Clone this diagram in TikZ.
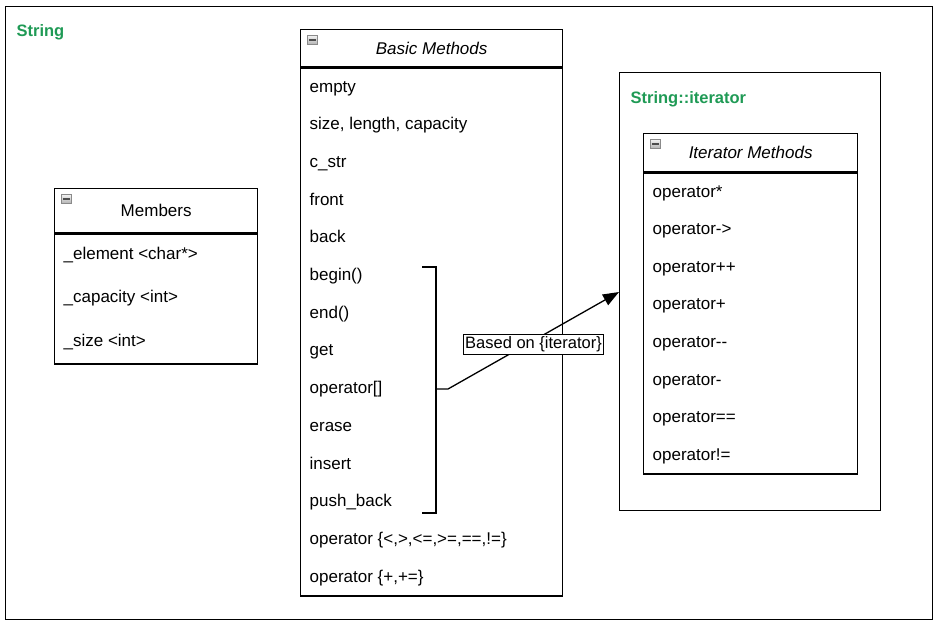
\documentclass[tikz,border=0pt]{standalone}
\usepackage{fontspec}
\setmainfont{Liberation Sans}
\usetikzlibrary{arrows.meta,positioning,calc}
\definecolor{umlGreen}{HTML}{1F9A55}
\definecolor{iconGray}{HTML}{8A8A8A}

\begin{document}
\begin{tikzpicture}[x=1pt,y=-1pt,line width=1.3pt,
    every node/.style={font=\fontsize{17}{20}\selectfont},
    frame/.style={draw,anchor=north west,inner sep=0pt},
    head/.style={draw,anchor=north west,inner sep=0pt,font=\fontsize{17}{20}\selectfont\itshape},
    body/.style={draw,anchor=north,inner sep=0pt,below=0pt of #1},
    row/.style={anchor=west,inner sep=0pt,text height=12pt,text depth=0pt},
    pkg/.style={anchor=west,inner sep=0pt,text=umlGreen,font=\fontsize{16.5}{20}\selectfont\bfseries},
    icon/.style={draw=iconGray,line width=0.7pt,anchor=north west,inner sep=0pt,
      minimum width=10pt,minimum height=9pt,top color=gray!10,bottom color=gray!60,
      path picture={\draw[black!70,line width=1.6pt] ($(path picture bounding box.west)+(1.5,0)$) -- ($(path picture bounding box.east)+(-1.5,0)$);}}]
  \useasboundingbox (0,0) rectangle (939,625);
  % outer frames
  \node[frame,minimum width=927pt,minimum height=613pt] (strframe) at (5,6) {};
  \node[pkg] (strlabel) at (16,32) {String};
  \node[frame,minimum width=261pt,minimum height=438pt] (itframe) at (619,72) {};
  \node[pkg] (itlabel) at (630,99) {String::iterator};

  % members
  \node[head,font=\fontsize{17}{20}\selectfont,minimum width=203pt,minimum height=44pt] (memhead) at (54,188) {Members};
  \node[body=memhead,minimum width=203pt,minimum height=130pt] (membody) {};
  \node[icon] at ($(memhead.north west)+(7,6)$) {};
  \foreach \t [count=\i] in {\_element <char*>,\_capacity <int>,\_size <int>}
    \node[row] (mem\i) at (63,{209.5+43.5*\i}) {\t};

  % basic methods
  \node[head,minimum width=262pt,minimum height=37pt] (bmhead) at (300,29) {Basic Methods};
  \node[body=bmhead,minimum width=262pt,minimum height=528pt] (bmbody) {};
  \node[icon] at ($(bmhead.north west)+(7,6)$) {};
  \foreach \t [count=\i] in {empty,{size, length, capacity},c\_str,front,back,begin(),end(),get,
      operator[],erase,insert,push\_back,{operator \{<,>,<=,>=,==,!=\}},{operator \{+,+=\}}}
    \node[row] (bm\i) at (309,{48.3+37.7*\i}) {\t};

  % iterator methods
  \node[head,minimum width=214pt,minimum height=38pt] (ithead) at (643,133) {Iterator Methods};
  \node[body=ithead,minimum width=214pt,minimum height=301pt] (itbody) {};
  \node[icon] at ($(ithead.north west)+(7,6)$) {};
  \foreach \t [count=\i] in {operator*,operator->,operator++,operator+,operator-{}-,operator-,operator==,operator!=}
    \node[row] (it\i) at (652,{153.4+37.6*\i}) {\t};

  % bracket and link
  \coordinate (brtop) at (422,267);
  \coordinate (brbot) at (422,513);
  \coordinate (brtick) at (436,389);
  \coordinate (brmid) at (448,389);
  \coordinate (tip) at ($(itframe.north west)+(0,220)$);
  \draw (brtop) -- ++(14,0) |- (brbot);
  \draw[-{Triangle[length=16pt,width=12pt]}] (brtick) -- (brmid) -- (tip)
    node[pos=0.5,yshift=-4pt,draw,fill=white,line width=0.9pt,inner sep=2pt,
      font=\fontsize{16.5}{18}\selectfont] (based) {Based on \{iterator\}};
\end{tikzpicture}
\end{document}
